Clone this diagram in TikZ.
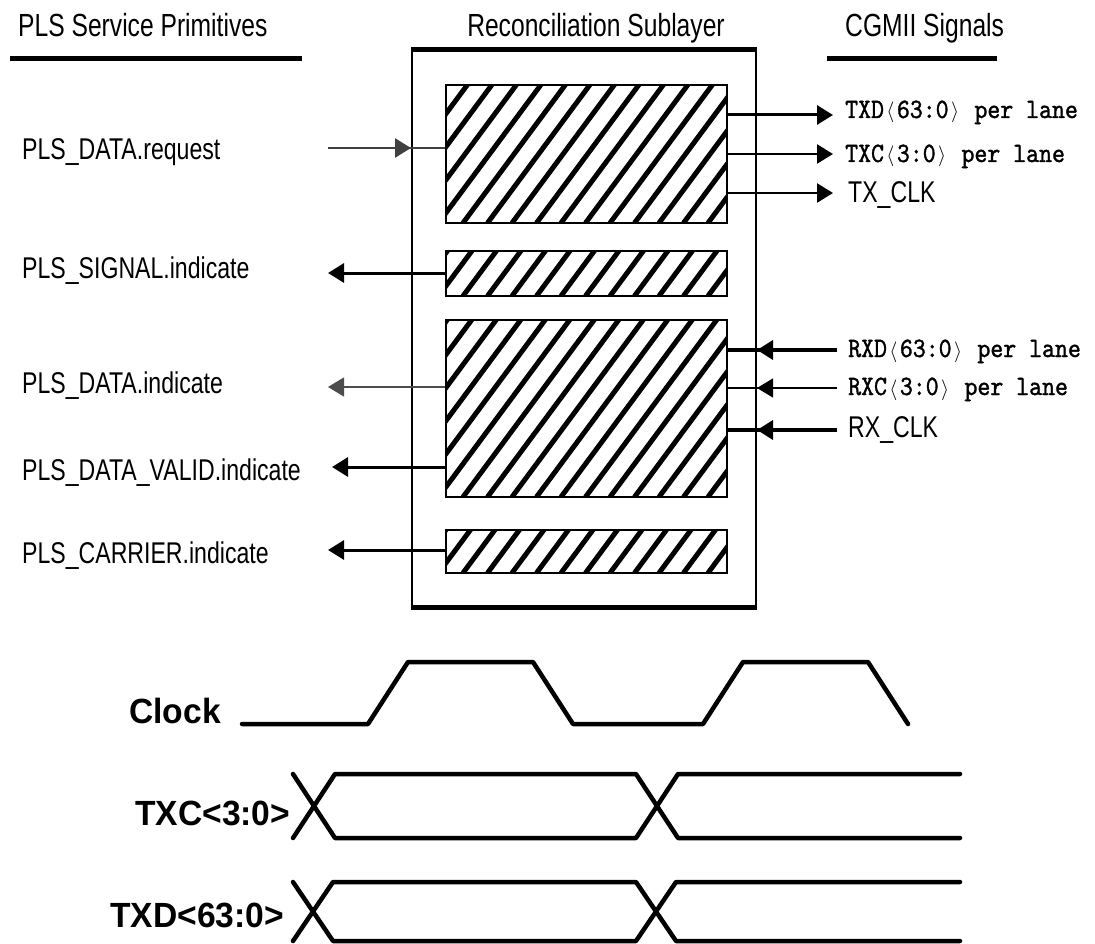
\documentclass[tikz,border=0pt]{standalone}
\usepackage{fontspec}
\usetikzlibrary{arrows.meta}
\newfontfamily\labf[FakeStretch=0.77]{Liberation Sans}
\newfontfamily\boldf[FakeStretch=0.96]{Liberation Sans}
\newfontfamily\monof{lmmono10-regular.otf}[FakeStretch=0.88,FakeBold=1.2]
\newcommand\myla{\makebox[0.46em]{\fontsize{22}{22}\selectfont$\langle$}}
\newcommand\myra{\makebox[0.46em]{\fontsize{22}{22}\selectfont$\rangle$}}
\begin{document}
\begin{tikzpicture}[x=1pt,y=-1pt,
  hdr/.style={font=\labf\fontsize{32}{32}\selectfont, inner sep=0, anchor=base},
  lab/.style={font=\labf\fontsize{30}{30}\selectfont, inner sep=0, anchor=base west},
  sig/.style={font=\monof\fontsize{28}{28}\selectfont, inner sep=0, anchor=base west},
  tlab/.style={font=\boldf\bfseries\fontsize{35}{35}\selectfont, inner sep=0, anchor=base west},
  hatchline/.style={line width=5pt},
  hatchbox/.style={draw=black, line width=2pt, inner sep=0, minimum width=281,
    path picture={\foreach \k in {-10,...,12}{
      \draw[hatchline] ([xshift=17pt+\k*24.5pt]path picture bounding box.south west) -- ++(150,-202.5);}}},
  head/.style={-{Triangle[length=16pt,width=19pt]}},
  wave/.style={line width=4.5pt, line join=round, line cap=round}]
\useasboundingbox (0,0) rectangle (1095,944);
\fill[white] (0,0) rectangle (1095,944);

% headers
\node[hdr, anchor=base west] (h1) at (18,37) {PLS Service Primitives};
\node[hdr] (h2) at (596,37) {Reconciliation Sublayer};
\node[hdr, anchor=base west] (h3) at (845,37) {CGMII Signals};
\draw[line width=5pt] (10,59) -- (302,59);
\draw[line width=5pt] (827,59) -- (997,59);

% outer box
\node[draw, line width=2pt, minimum width=344, minimum height=555, inner sep=0] (rs) at (584,328.5) {};
\draw[line width=5pt] (rs.north west) -- (rs.north east);
\draw[line width=5pt] (rs.south west) -- (rs.south east);

% inner hatched boxes
\node[hatchbox, minimum height=138] (b1) at (586.5,154) {};
\node[hatchbox, minimum height=45] (b2) at (586.5,273.5) {};
\node[hatchbox, minimum height=177] (b3) at (586.5,408.5) {};
\node[hatchbox, minimum height=43] (b4) at (586.5,551.5) {};

% left labels
\node[lab] (preq) at (22,160) {PLS\_DATA.request};
\node[lab] (psig) at (22,278) {PLS\_SIGNAL.indicate};
\node[lab] (pdi) at (22,393) {PLS\_DATA.indicate};
\node[lab] (pdv) at (22,480) {PLS\_DATA\_VALID.indicate};
\node[lab] (pcar) at (22,563) {PLS\_CARRIER.indicate};

% left connectors
\coordinate (reqL) at (328,148);
\draw[line width=2.5pt, black!75] (reqL) -- (b1.west |- reqL);
\draw[head, line width=2.5pt, black!75] (reqL) -- (rs.west |- reqL);
\coordinate (sigL) at (328,273);
\draw[head, line width=3pt] (b2.west |- sigL) -- (sigL);
\coordinate (pdiL) at (328,387);
\draw[head, line width=1.2pt, black!70] (b3.west |- pdiL) -- (pdiL);
\coordinate (pdvL) at (332,467);
\draw[head, line width=3pt] (b3.west |- pdvL) -- (pdvL);
\coordinate (pcarL) at (328,550);
\draw[head, line width=3pt] (b4.west |- pcarL) -- (pcarL);

% right labels
\node[sig] (ltxd) at (845,118) {TXD\myla63:0\myra{} per lane};
\node[sig] (ltxc) at (845,162) {TXC\myla3:0\myra{} per lane};
\node[lab] (ltxclk) at (848,203) {TX\_CLK};
\node[sig] (lrxd) at (848,357) {RXD\myla63:0\myra{} per lane};
\node[sig] (lrxc) at (848,395) {RXC\myla3:0\myra{} per lane};
\node[lab] (lrxclk) at (848,437) {RX\_CLK};

% right connectors (TX)
\coordinate (txdR) at (833,115);
\draw[head, line width=3pt] (b1.east |- txdR) -- (txdR);
\coordinate (txcR) at (833,154);
\draw[head, line width=2.5pt] (b1.east |- txcR) -- (txcR);
\coordinate (txclkR) at (833,193);
\draw[head, line width=2.5pt] (b1.east |- txclkR) -- (txclkR);

% right connectors (RX)
\coordinate (rxdR) at (837,350);
\draw[line width=3.5pt] (rxdR) -- (b3.east |- rxdR);
\draw[head, line width=3.5pt] (rxdR) -- (rs.east |- rxdR);
\coordinate (rxcR) at (837,388);
\draw[line width=1.3pt] (rxcR) -- (b3.east |- rxcR);
\draw[head, line width=1.3pt] (rxcR) -- (rs.east |- rxcR);
\coordinate (rxclkR) at (837,430);
\draw[line width=3.5pt] (rxclkR) -- (b3.east |- rxclkR);
\draw[head, line width=3.5pt] (rxclkR) -- (rs.east |- rxclkR);

% timing diagram
\node[tlab] (lclk) at (129,723) {Clock};
\node[tlab] (ltxc2) at (135,825) {TXC<3:0>};
\node[tlab] (ltxd2) at (110,927) {TXD<63:0>};

\draw[wave] (242,724) -- (368,724) -- (408,662) -- (533,662) -- (573,724) -- (703,724) -- (743,662) -- (868,662) -- (908,724);

\draw[wave] (293,774) -- (335,838) -- (636,838) -- (678,774) -- (960,774);
\draw[wave] (293,838) -- (335,774) -- (636,774) -- (678,838) -- (960,838);

\draw[wave] (293,882) -- (333,941) -- (636,941) -- (676,882) -- (960,882);
\draw[wave] (293,941) -- (333,882) -- (636,882) -- (676,941) -- (960,941);
\end{tikzpicture}
\end{document}
